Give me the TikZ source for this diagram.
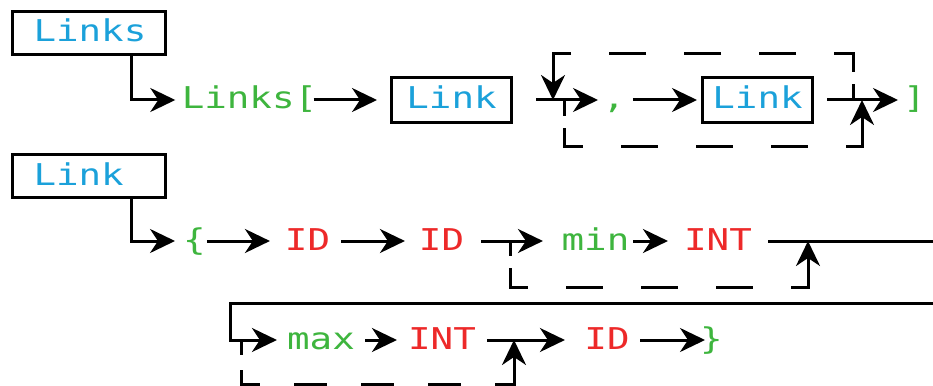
\documentclass[tikz,border=0pt]{standalone}
\usepackage{fontspec}
\newfontfamily\rrmono{DejaVu Sans Mono}[FakeStretch=1.25]
\usetikzlibrary{arrows.meta}
\definecolor{ntblue}{RGB}{27,161,218}
\definecolor{kwgreen}{RGB}{62,181,62}
\definecolor{tokred}{RGB}{237,41,41}
\tikzset{
  every node/.style={font={\rrmono\fontsize{30pt}{32pt}\selectfont}, inner sep=0pt, outer sep=0pt, text height=24pt, text depth=6pt},
  kw/.style={text=kwgreen},
  tok/.style={text=tokred},
  defbox/.style={draw, line width=3pt, text=ntblue, minimum height=43pt, text width=111pt, align=left, inner xsep=21pt, anchor=west},
  refbox/.style={draw, line width=3pt, text=ntblue, minimum height=44pt},
  wire/.style={line width=3pt},
  arr/.style={wire, -{Stealth[length=25pt,width=24pt,inset=8pt]}},
  dashwire/.style={wire, dash pattern=on 37pt off 38pt},
}
\begin{document}
\begin{tikzpicture}[x=1pt,y=-1pt]
\useasboundingbox (0,0) rectangle (933,385);
% ---------- row 1 ----------
\node[defbox] (LinksDef) at (12.5,33) {Links};
\node[kw] (Lb) at (249.5,100) {Links[};
\node[refbox, minimum width=120pt] (link1) at (451.5,100) {Link};
\node[kw] (cm) at (614,100) {,};
\node[refbox, minimum width=110pt] (link2) at (757.5,100) {Link};
\node[kw] (rb) at (914.5,100) {]};
\coordinate (j1) at (131,0);
\draw[arr, shorten >=6.5pt] (LinksDef.south -| j1) |- (Lb);
\draw[arr, shorten <=-3.7pt, shorten >=14.5pt] (Lb.east) -- (link1.west);
\draw[arr, shorten <=24.5pt, shorten >=4.7pt] (link1.east) -- (cm.west);
\draw[arr, shorten <=7.7pt, shorten >=5.5pt] (cm.east) -- (link2.west);
\draw[arr, shorten <=14.5pt, shorten >=5.2pt] (link2.east) -- (rb.west);
% loop back over "Link"
\coordinate (t1a) at (853,100);
\coordinate (t1b) at (853,84);
\coordinate (t1c) at (853,72);
\coordinate (t1d) at (553,54);
\coordinate (t1f) at (569,54);
\coordinate (t1e) at (553,100);
\draw[wire] (t1a) -- (t1b);
\draw[dashwire] (t1c) |- (t1d);
\draw[arr] (t1f) -| (t1e);
% skip
\coordinate (s1a) at (564,100);
\coordinate (s1b) at (564,116);
\coordinate (s1c) at (564,128);
\coordinate (s1d) at (862,146);
\coordinate (s1f) at (846,146);
\coordinate (s1e) at (862,100);
\draw[wire] (s1a) -- (s1b);
\draw[dashwire] (s1c) |- (s1d);
\draw[arr] (s1f) -| (s1e);
% ---------- row 2 ----------
\node[defbox] (LinkDef) at (12.5,176) {Link};
\node[kw] (lb) at (194.5,241) {\{};
\node[tok] (id1) at (307.5,241) {ID};
\node[tok] (id2) at (441.5,241) {ID};
\node[kw] (mn) at (595.5,241) {min};
\node[tok] (int1) at (718,241) {INT};
\draw[arr, shorten >=8.2pt] (LinkDef.south -| j1) |- (lb);
\draw[arr, shorten <=1.2pt, shorten >=15pt] (lb.east) -- (id1.west);
\draw[arr, shorten <=11pt, shorten >=14pt] (id1.east) -- (id2.west);
\draw[arr, shorten <=17pt, shorten >=18.7pt] (id2.east) -- (mn.west);
\draw[arr, shorten <=3.7pt, shorten >=16.2pt] (mn.east) -- (int1.west);
% skip min INT
\coordinate (s2a) at (510,241);
\coordinate (s2b) at (510,256);
\coordinate (s2c) at (510,268);
\coordinate (s2d) at (808,287);
\coordinate (s2f) at (791,287);
\coordinate (s2e) at (808,241);
\draw[wire] (s2a) -- (s2b);
\draw[dashwire] (s2c) |- (s2d);
\draw[arr] (s2f) -| (s2e);
% ---------- row 3 ----------
\node[kw] (mx) at (321,340) {max};
\node[tok] (int2) at (442,340) {INT};
\node[tok] (id3) at (607,340) {ID};
\node[kw] (rc) at (711.5,340) {\}};
\coordinate (rt) at (950,303);
\coordinate (lt) at (230,303);
\draw[arr, shorten <=16.2pt, shorten >=10.2pt] (int1.east) -| (rt) -- (lt) |- (mx);
\draw[arr, shorten <=10.2pt, shorten >=11.2pt] (mx.east) -- (int2.west);
\draw[arr, shorten <=11.2pt, shorten >=19.5pt] (int2.east) -- (id3.west);
\draw[arr, shorten <=10.5pt, shorten >=-4.8pt] (id3.east) -- (rc.west);
% skip max INT
\coordinate (s3a) at (241,340);
\coordinate (s3b) at (241,355);
\coordinate (s3c) at (241,370);
\coordinate (s3d) at (514,384);
\coordinate (s3f) at (497,384);
\coordinate (s3e) at (514,340);
\draw[wire] (s3a) -- (s3b);
\draw[wire, dash pattern=on 33pt off 34pt] (s3c) |- (s3d);
\draw[arr] (s3f) -| (s3e);
\end{tikzpicture}
\end{document}
